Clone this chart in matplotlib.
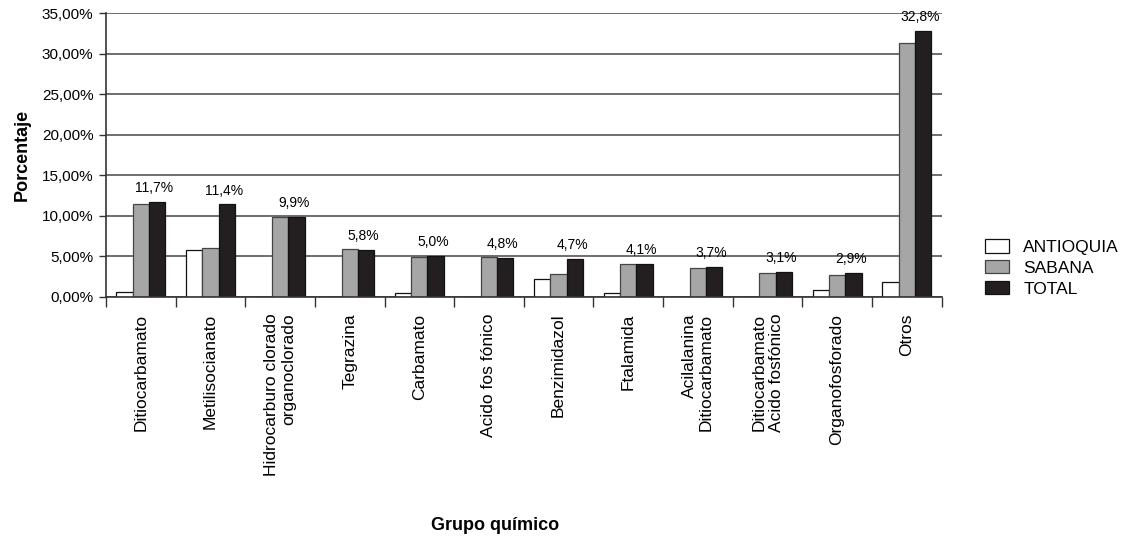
import numpy as np
import matplotlib
matplotlib.use("Agg")
import matplotlib.pyplot as plt
from matplotlib.ticker import FuncFormatter, FixedLocator

plt.rcParams["font.family"] = ["Liberation Sans", "DejaVu Sans"]

grupos = [
    "Ditiocarbamato",
    "Metilisocianato",
    "Hidrocarburo clorado\norganoclorado",
    "Tegrazina",
    "Carbamato",
    "Acido fos fónico",
    "Benzimidazol",
    "Ftalamida",
    "Acilalanina\nDitiocarbamato",
    "Ditiocarbamato\nAcido fosfónico",
    "Organofosforado",
    "Otros",
]
antioquia = [0.6, 5.8, 0.0, 0.0, 0.45, 0.0, 2.2, 0.45, 0.0, 0.0, 0.85, 1.9]
sabana = [11.4, 6.0, 9.9, 5.9, 4.9, 4.9, 2.8, 4.0, 3.6, 3.0, 2.7, 31.3]
total = [11.7, 11.4, 9.9, 5.8, 5.0, 4.8, 4.7, 4.1, 3.7, 3.1, 2.9, 32.8]

x = np.arange(len(grupos))
w = 0.235

fig = plt.figure(figsize=(11.3, 5.36), dpi=100)
ax = fig.add_axes([0.0938, 0.446, 0.7394, 0.5297])

ax.set_axisbelow(True)
ax.yaxis.grid(True, color="#555555", linewidth=1.2)

ax.bar(x - w, antioquia, w, color="white", edgecolor="#111111", linewidth=0.9, label="ANTIOQUIA")
ax.bar(x, sabana, w, color="#a6a6a6", edgecolor="#444444", linewidth=0.9, label="SABANA")
barras = ax.bar(x + w, total, w, color="#231f20", edgecolor="#111111", linewidth=0.9, label="TOTAL")

for b, v in zip(barras, total):
    ax.annotate(f"{v:.1f}%".replace(".", ","),
                (b.get_x() + b.get_width() / 2, v),
                xytext=(-2, 5), textcoords="offset points",
                ha="center", va="bottom", fontsize=10)

ax.set_xlim(-0.5, len(grupos) - 0.5)
ax.set_ylim(0, 35)
ax.set_yticks(np.arange(0, 36, 5))
ax.yaxis.set_major_formatter(FuncFormatter(lambda v, p: f"{v:.2f}%".replace(".", ",")))
ax.tick_params(axis="y", labelsize=11, length=5, width=1, color="#333333", pad=4)

ax.set_xticks(x)
ax.set_xticklabels(grupos, rotation=90, ha="center", va="top",
                   multialignment="right", fontsize=12.5)
ax.tick_params(axis="x", which="major", length=0, pad=12)
ax.xaxis.set_minor_locator(FixedLocator(np.arange(-0.5, len(grupos), 1.0)))
ax.tick_params(axis="x", which="minor", length=7, width=1, color="#333333")

for s in ["top", "right"]:
    ax.spines[s].set_visible(False)
ax.spines["left"].set_color("#333333")
ax.spines["bottom"].set_color("#333333")
ax.spines["left"].set_linewidth(1.2)
ax.spines["bottom"].set_linewidth(1.2)

ax.set_ylabel("Porcentaje", fontsize=13, fontweight="bold", labelpad=8)
fig.text(495 / 1130, 1 - 525 / 536, "Grupo químico", ha="center", va="center",
         fontsize=13, fontweight="bold")

fig.legend(loc="center left", bbox_to_anchor=(985 / 1130, 1 - 268 / 536), frameon=False,
           fontsize=12.5, handlelength=1.4, handleheight=0.8, handletextpad=0.8,
           labelspacing=0.3, borderpad=0, borderaxespad=0)

fig.savefig("out.png", dpi=100)
